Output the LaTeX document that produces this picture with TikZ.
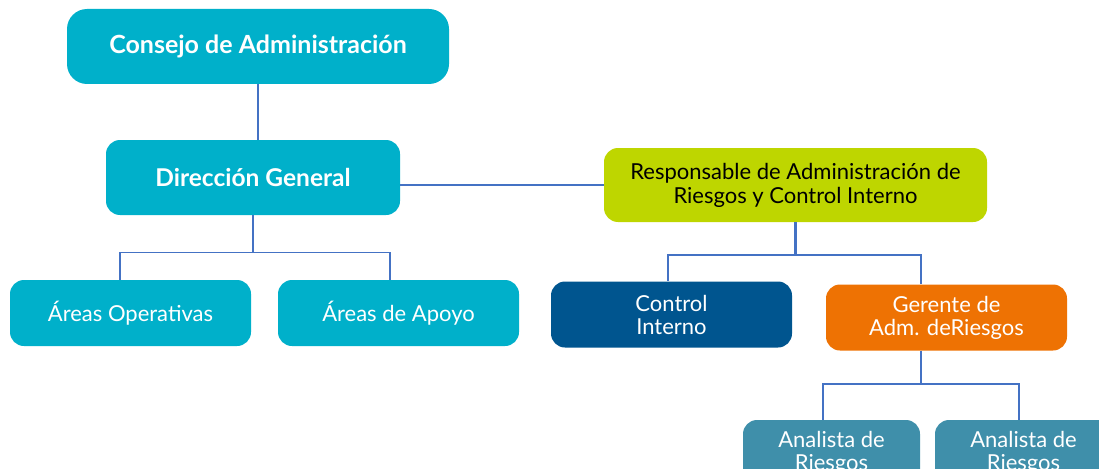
\documentclass[tikz,border=0pt]{standalone}
\usepackage{fontspec}
\setmainfont{Lato}
\definecolor{cteal}{HTML}{00B0CA}
\definecolor{clime}{HTML}{BED600}
\definecolor{cnavy}{HTML}{00558F}
\definecolor{corange}{HTML}{EE7203}
\definecolor{csteel}{HTML}{3F8FAA}
\definecolor{cline}{HTML}{4472C4}
\begin{document}
\begin{tikzpicture}[x=1pt,y=-1pt,
  box/.style={rounded corners=14pt, minimum width=241pt, minimum height=66pt, align=center, inner sep=0pt, text=white, font=\fontsize{22}{23}\selectfont},
  conn/.style={draw=cline, line width=2.2pt},
  thinconn/.style={draw=cline, line width=1.4pt}]
\useasboundingbox (0,0) rectangle (1099,468);
\clip (0,0) rectangle (1099,468);
\node[box, fill=cteal, rounded corners=20pt, minimum width=382pt, minimum height=75pt, font=\fontsize{25}{26}\selectfont\bfseries] (consejo) at (258,46.5) {Consejo de Administración};
\node[box, fill=cteal, minimum width=294pt, minimum height=75pt, font=\fontsize{24.5}{26}\selectfont\bfseries] (dir) at (253,177.5) {Dirección General};
\node[box, fill=cteal] (ops) at (130.5,313) {Áreas Operativas};
\node[box, fill=cteal] (apoyo) at (398.5,313) {Áreas de Apoyo};
\node[box, fill=clime, minimum width=383pt, minimum height=74pt, text=black, font=\fontsize{22}{24}\selectfont] (resp) at (795.5,185) {Responsable de Administración de\\Riesgos y Control Interno};
\node[box, fill=cnavy] (ci) at (671.5,314.5) {Control\\Interno};
\node[box, fill=corange] (ger) at (946.5,317.5) {Gerente de\\Adm. deRiesgos};
\node[box, fill=csteel, minimum width=177pt, minimum height=65pt] (an1) at (831.5,452.5) {Analista de\\Riesgos};
\node[box, fill=csteel, minimum width=177pt, minimum height=65pt] (an2) at (1023.5,452.5) {Analista de\\Riesgos};
% connectors
\draw[conn, line width=1.8pt] (consejo.south) -- (consejo.south |- dir.north);
\draw[conn] (resp.west) -- (resp.west -| dir.east);
\coordinate (j1) at ([yshift=-37pt]dir.south);
\draw[thinconn] (dir.south) -- (j1);
\draw[thinconn] (j1) -| ([xshift=-10.5pt]ops.north);
\draw[thinconn] (j1) -| ([xshift=-8.5pt]apoyo.north);
\coordinate (j2) at ([yshift=-33pt]resp.south);
\draw[conn] (resp.south) -- (j2);
\draw[conn] (j2) -| ([xshift=-3.5pt]ci.north);
\draw[conn] (j2) -| ([xshift=-25.5pt]ger.north);
\coordinate (j3) at ([xshift=-25.5pt,yshift=-33pt]ger.south);
\draw[conn] ([xshift=-25.5pt]ger.south) -- (j3);
\draw[conn] (j3) -| ([xshift=-8.5pt]an1.north);
\draw[conn] (j3) -| ([xshift=-4.5pt]an2.north);
\end{tikzpicture}
\end{document}
